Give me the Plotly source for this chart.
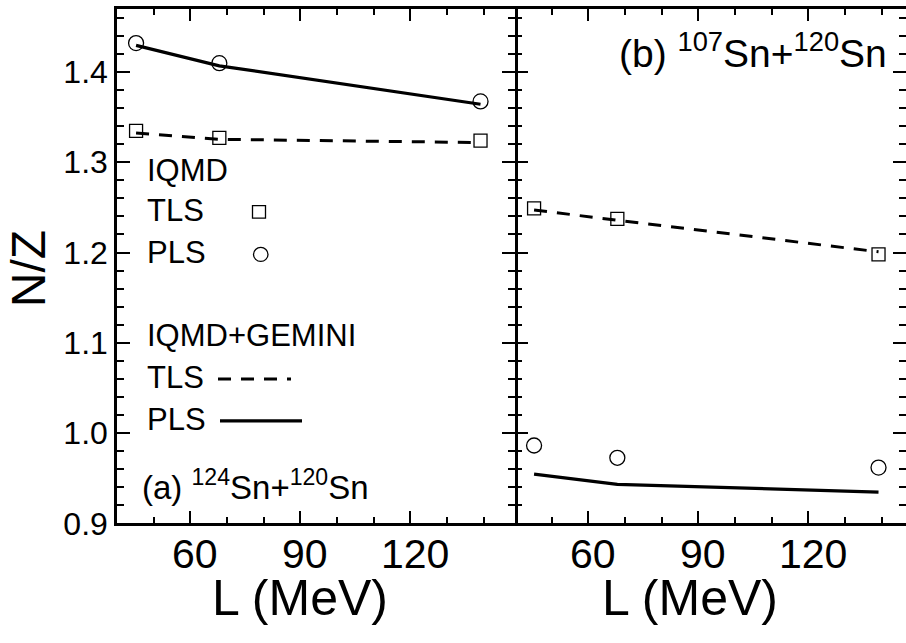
import plotly.graph_objects as go

# ---------------- data ----------------
L_vals = [45.2, 67.9, 139.1]

# panel (a) 124Sn+120Sn
a_iqmd_tls = [1.3347, 1.3271, 1.3239]
a_iqmd_pls = [1.4320, 1.4097, 1.3674]
a_gem_tls = [1.3325, 1.3254, 1.3218]
a_gem_pls = [1.4294, 1.4068, 1.3642]

# panel (b) 107Sn+120Sn
b_iqmd_tls = [1.2490, 1.2372, 1.1980]
b_iqmd_pls = [0.9863, 0.9727, 0.9619]
b_gem_tls = [1.2472, 1.2357, 1.2008]
b_gem_pls = [0.9547, 0.9433, 0.9347]

x_tickvals = [60, 90, 120]
x_ticktext = ["60", "90", "120"]
y_tickvals = [0.9, 1.0, 1.1, 1.2, 1.3, 1.4]

# ---------------- layout helpers ----------------
W, H = 906, 643
def px(x):
    return x / W
def py(y):
    return 1 - y / H

FONT = "Liberation Sans, Arial, sans-serif"

fig = go.Figure()

def add_panel(xa, ya, tls, pls, gtls, gpls):
    fig.add_trace(go.Scatter(x=L_vals, y=gtls, mode="lines", xaxis=xa, yaxis=ya,
                             line=dict(color="black", width=3, dash="13px,10px"),
                             showlegend=False, hoverinfo="skip"))
    fig.add_trace(go.Scatter(x=L_vals, y=gpls, mode="lines", xaxis=xa, yaxis=ya,
                             line=dict(color="black", width=3.2),
                             showlegend=False, hoverinfo="skip"))
    fig.add_trace(go.Scatter(x=L_vals, y=tls, mode="markers", xaxis=xa, yaxis=ya,
                             marker=dict(symbol="square-open", size=13, color="black",
                                         line=dict(width=1.3)),
                             showlegend=False))
    fig.add_trace(go.Scatter(x=L_vals, y=pls, mode="markers", xaxis=xa, yaxis=ya,
                             marker=dict(symbol="circle-open", size=15, color="black",
                                         line=dict(width=1.3)),
                             showlegend=False))

add_panel("x", "y", a_iqmd_tls, a_iqmd_pls, a_gem_tls, a_gem_pls)
add_panel("x2", "y2", b_iqmd_tls, b_iqmd_pls, b_gem_tls, b_gem_pls)
fig.add_trace(go.Scatter(x=[], y=[], xaxis="x2", yaxis="y3", showlegend=False))

x_left, x_div, x_right = 117, 515, 906
y_bot, y_top = 538.5, 9
ppu = (x_div - x_left) / 108.5

common_x = dict(showline=True, linecolor="black", linewidth=2.5, mirror="ticks",
                ticks="inside", ticklen=13, tickwidth=2, tickcolor="black",
                tickvals=x_tickvals, showgrid=False, zeroline=False,
                showticklabels=False,
                minor=dict(dtick=10, tick0=0, ticks="inside", ticklen=7, tickwidth=2,
                           tickcolor="black", showgrid=False))
minor_y = dict(dtick=0.02, tick0=0.9, ticks="inside", ticklen=7, tickwidth=2,
               tickcolor="black", showgrid=False)

fig.update_layout(
    width=W, height=H, margin=dict(l=0, r=0, t=0, b=0),
    paper_bgcolor="white", plot_bgcolor="white",
    showlegend=False,
    xaxis=dict(domain=[px(x_left), px(x_div)], range=[40, 148.5], anchor="y", **common_x),
    xaxis2=dict(domain=[px(x_div), 1.0], range=[40, 40 + (x_right - x_div) / ppu],
                anchor="y2", **common_x),
    yaxis=dict(domain=[py(y_bot), py(y_top)], anchor="x", mirror="ticks",
               showline=True, linecolor="black", linewidth=2.5,
               ticks="inside", ticklen=13, tickwidth=2, tickcolor="black",
               tickvals=y_tickvals, range=[0.9, 1.47], showgrid=False, zeroline=False,
               tickformat=".1f", tickfont=dict(family=FONT, size=32, color="black"),
               minor=minor_y),
    yaxis2=dict(domain=[py(y_bot), py(y_top)], anchor="x2", showline=False,
                ticks="inside", ticklen=13, tickwidth=2, tickcolor="black",
                tickvals=y_tickvals, range=[0.9, 1.47], showgrid=False, zeroline=False,
                showticklabels=False, minor=minor_y),
    yaxis3=dict(overlaying="y2", anchor="x2", side="right", showline=False,
                ticks="inside", ticklen=13, tickwidth=2, tickcolor="black",
                tickvals=y_tickvals, range=[0.9, 1.47], showticklabels=False,
                showgrid=False, zeroline=False, minor=minor_y),
)

ann = []
def text(t, x, y, size, xanchor="left", yanchor="middle", angle=0):
    ann.append(dict(text=t, x=px(x), y=py(y), xref="paper", yref="paper",
                    xanchor=xanchor, yanchor=yanchor, showarrow=False, textangle=angle,
                    font=dict(family=FONT, size=size, color="black")))

# x tick labels (placed on the data axes)
for xr in ("x", "x2"):
    for v, t in zip(x_tickvals, x_ticktext):
        ann.append(dict(text=t, x=v, xref=xr, y=py(570), yref="paper", xshift=5,
                        xanchor="center", yanchor="middle", showarrow=False,
                        font=dict(family=FONT, size=41, color="black")))

# axis titles
text("L (MeV)", 300, 615, 50, xanchor="center")
text("L (MeV)", 690, 615, 50, xanchor="center")
text("N/Z", 28, 277, 48, xanchor="center", angle=-90)

# panel labels
text("(a) <sup>124</sup>Sn+<sup>120</sup>Sn", 140, 499, 33)
text("(b) <sup>107</sup>Sn+<sup>120</sup>Sn", 617, 52, 39)

# key
text("IQMD", 145, 175, 31)
text("TLS", 145, 217, 31)
text("PLS", 145, 260, 31)
text("IQMD+GEMINI", 145, 345, 31)
text("TLS", 145, 388, 31)
text("PLS", 145, 432, 31)
fig.update_layout(annotations=ann)

shapes = []
# square key
shapes.append(dict(type="rect", xref="paper", yref="paper",
                   x0=px(252.5), x1=px(265.5), y0=py(224.5), y1=py(211.5),
                   line=dict(color="black", width=1.3)))
# circle key
shapes.append(dict(type="circle", xref="paper", yref="paper",
                   x0=px(253.5), x1=px(268), y0=py(269), y1=py(254.5),
                   line=dict(color="black", width=1.3)))
# dashed key
shapes.append(dict(type="line", xref="paper", yref="paper",
                   x0=px(218), x1=px(291), y0=py(390), y1=py(390),
                   line=dict(color="black", width=3, dash="13px,10px")))
# solid key
shapes.append(dict(type="line", xref="paper", yref="paper",
                   x0=px(220), x1=px(302), y0=py(433), y1=py(433),
                   line=dict(color="black", width=3.2)))
fig.update_layout(shapes=shapes)

fig.write_html("out.html")
